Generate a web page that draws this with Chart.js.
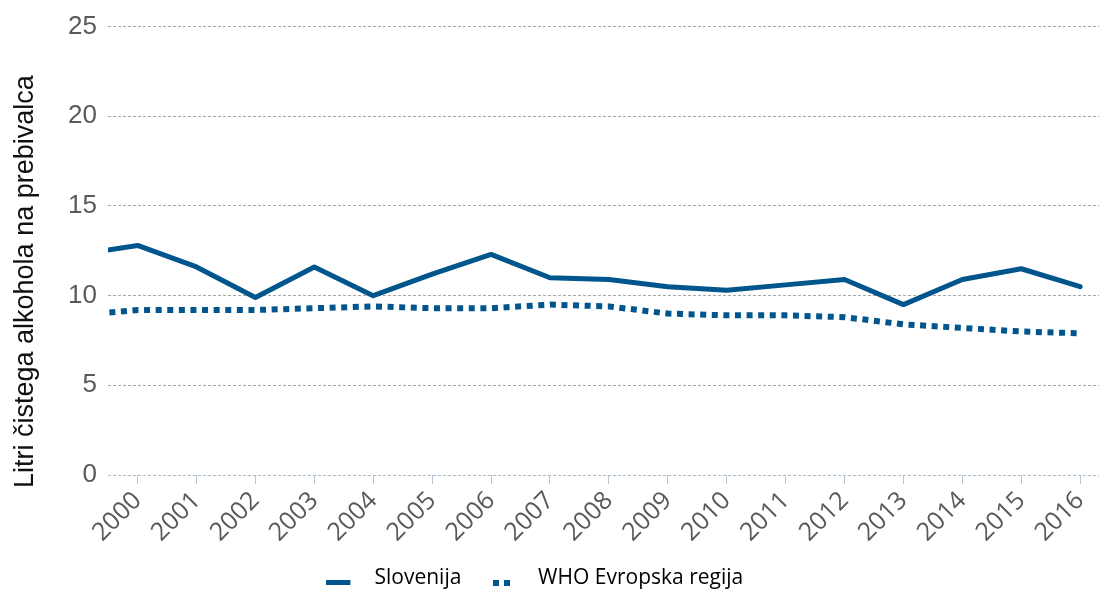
<!DOCTYPE html>
<html lang="sl">
<head>
<meta charset="utf-8">
<title>Poraba alkohola</title>
<script src="https://cdn.jsdelivr.net/npm/chart.js@4"></script>
<style>
  html, body { margin: 0; padding: 0; background: #fff; }
  canvas { display: block; }
</style>
</head>
<body>
<canvas id="myChart" width="1099" height="592"></canvas>
<script>
"use strict";

// DATA
const years = [1999, 2000, 2001, 2002, 2003, 2004, 2005, 2006, 2007, 2008, 2009, 2010, 2011, 2012, 2013, 2014, 2015, 2016];
const tickYears = [2000, 2001, 2002, 2003, 2004, 2005, 2006, 2007, 2008, 2009, 2010, 2011, 2012, 2013, 2014, 2015, 2016];
const slovenija = [12.3, 12.8, 11.6, 9.9, 11.6, 10.0, 11.2, 12.3, 11.0, 10.9, 10.5, 10.3, 10.6, 10.9, 9.5, 10.9, 11.5, 10.5];
const whoEvropa = [8.9, 9.2, 9.2, 9.2, 9.3, 9.4, 9.3, 9.3, 9.5, 9.4, 9.0, 8.9, 8.9, 8.8, 8.4, 8.2, 8.0, 7.9];
const yTicks = [0, 5, 10, 15, 20, 25];
const seriesNames = ["Slovenija", "WHO Evropska regija"];
const yTitle = "Litri čistega alkohola na prebivalca";

const BLUE = "#00558c";
const GRID = "#a6a6a6";
const AXIS = "#a9bccf";
const TICK_TEXT = "#595959";

// LEGEND SAMPLES (drawn as point style images)
const makeSample = function (w, draw) {
  const c = document.createElement("canvas");
  c.width = w;
  c.height = 16;
  const g = c.getContext("2d");
  g.fillStyle = BLUE;
  draw(g);
  return c;
};
const solidSample = makeSample(67, (g) => g.fillRect(0, 10, 24, 5));
const dotSample = makeSample(61, (g) => {
  g.fillRect(0, 10, 6, 6);
  g.fillRect(11, 10, 6, 6);
});

// Y TITLE + room for the rotated year labels
const yTitlePlugin = {
  id: "yTitle",
  afterLayout(chart) {
    // the x axis box is kept short so the legend sits close,
    // but the year labels must not be clipped
    const x = chart.scales.x;
    x.bottom = x.top + 80;
  },
  afterDraw(chart) {
    const c = chart.ctx;
    c.save();
    c.translate(33, 488);
    c.rotate(-Math.PI / 2);
    c.font = "27px 'Liberation Sans', Arial, sans-serif";
    c.fillStyle = "#111";
    c.textAlign = "left";
    c.textBaseline = "alphabetic";
    c.fillText(yTitle, 0, 0);
    c.restore();
  },
};

const toPoints = (vals) => vals.map((v, i) => ({ x: years[i], y: v }));

const ctx = document.getElementById("myChart");

const chart = new Chart(ctx, {
  type: "line",
  data: {
    datasets: [
      {
        label: seriesNames[0],
        data: toPoints(slovenija),
        borderColor: BLUE,
        backgroundColor: BLUE,
        borderWidth: 5,
        borderCapStyle: "round",
        borderJoinStyle: "round",
        pointRadius: 0,
        pointHoverRadius: 0,
        pointStyle: solidSample,
        tension: 0,
      },
      {
        label: seriesNames[1],
        data: toPoints(whoEvropa),
        borderColor: BLUE,
        backgroundColor: BLUE,
        borderWidth: 6,
        borderDash: [6, 5.6],
        borderDashOffset: 4,
        borderCapStyle: "butt",
        pointRadius: 0,
        pointHoverRadius: 0,
        pointStyle: dotSample,
        tension: 0,
      },
    ],
  },
  options: {
    responsive: false,
    animation: false,
    maintainAspectRatio: false,
    layout: {
      padding: { top: 24, right: 0, bottom: -6.5, left: 0 },
    },
    plugins: {
      legend: {
        position: "bottom",
        align: "center",
        labels: {
          usePointStyle: true,
          pointStyleWidth: 8.2,
          padding: 58,
          color: "#000",
          font: { family: "'Open Sans', sans-serif", size: 21 },
        },
      },
      tooltip: { enabled: false },
    },
    scales: {
      x: {
        type: "linear",
        min: 1999.4975,
        max: 2016.32,
        afterFit: (axis) => {
          axis.height = 34.5;
          axis.paddingRight = 0;
        },
        afterBuildTicks: (axis) => {
          axis.ticks = tickYears.map((v) => ({ value: v }));
        },
        ticks: {
          autoSkip: false,
          minRotation: 45,
          maxRotation: 45,
          padding: 2,
          color: TICK_TEXT,
          font: { family: "'Open Sans', sans-serif", size: 25 },
          callback: (v) => String(v),
        },
        grid: {
          drawOnChartArea: false,
          drawTicks: true,
          tickLength: 9,
          tickColor: "#b7c7d8",
        },
        border: { display: false },
      },
      y: {
        min: 0,
        max: 25,
        afterFit: (axis) => {
          axis.width = 108;
        },
        afterBuildTicks: (axis) => {
          axis.ticks = yTicks.map((v) => ({ value: v }));
        },
        ticks: {
          padding: 11,
          color: TICK_TEXT,
          font: { family: "'Liberation Sans', Arial, sans-serif", size: 26 },
        },
        grid: {
          drawTicks: false,
          color: (c) => (c.tick && c.tick.value === 0 ? AXIS : GRID),
          lineWidth: 1,
        },
        border: { display: false, dash: [3, 2] },
      },
    },
  },
  plugins: [yTitlePlugin],
});
</script>
</body>
</html>
